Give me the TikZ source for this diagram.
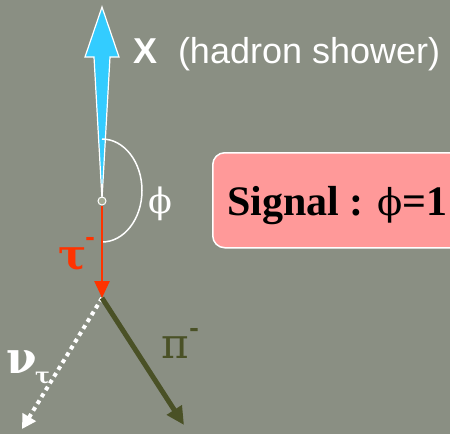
\documentclass[tikz,border=0pt]{standalone}
\usepackage{fontspec}
\setmainfont{Liberation Serif}
\newfontfamily\arialf{Liberation Sans}
\newfontfamily\dvsf{DejaVu Serif}
\usetikzlibrary{arrows.meta}
\definecolor{bg}{HTML}{8A8F83}
\definecolor{cyanX}{HTML}{33CCFF}
\definecolor{taured}{HTML}{FF3300}
\definecolor{pigreen}{HTML}{4A5126}
\definecolor{boxpink}{HTML}{FF9999}
\definecolor{vtxfill}{HTML}{A3AA94}
\begin{document}
\begin{tikzpicture}[x=1pt,y=-1pt,
  lbl/.style={inner sep=0pt, outer sep=0pt, anchor=base west},
  whitetxt/.style={lbl, text=white}]
\useasboundingbox (0,0) rectangle (450,434);
\fill[bg] (0,0) rectangle (450,434);

% named points
\coordinate (tipX) at (102,7);
\coordinate (d) at (102,298);
\coordinate (nuend) at (22,429);
\coordinate (piend) at (184,425);

% signal box
\node[draw=white, line width=1.5pt, fill=boxpink, rounded corners=12pt,
      minimum width=270pt, minimum height=95pt, anchor=north west, inner sep=0pt] (box) at (212,152) {};
\node[lbl, text=black] (sig) at (227,215) {\fontsize{42}{44}\selectfont\bfseries Signal : {\dvsf\mdseries\fontsize{37}{40}\selectfont ϕ}=1};

% hadron shower arrow (X)
\filldraw[fill=cyanX, draw=white, line width=1.2pt, line join=miter]
  (tipX) -- (119,57) -- (110,57) -- (102,199) -- (94,57) -- (85,57) -- cycle;

% angle arc
\draw[white, line width=1.5pt] (102,139) arc[start angle=-90, end angle=90, x radius=40, y radius=51.5];

% vertex
\node[circle, draw=white, fill=vtxfill, line width=1pt, minimum size=8pt, inner sep=0pt] (v) at (102,201) {};

% tau arrow
\draw[taured, line width=2.5pt, -{Triangle[length=17pt,width=15pt]}] (v.south) -- (d);

% neutrino (dotted)
\draw[white, line width=4pt, dash pattern=on 4pt off 4pt, -{Triangle[length=14pt,width=15pt]}] (d) -- (nuend);

% pion
\draw[pigreen, line width=5pt, -{Triangle[length=18pt,width=17pt]}] (d) -- (piend);

% labels
\node[whitetxt] (xl) at (133,63) {\arialf\bfseries\fontsize{36}{40}\selectfont X};
\node[whitetxt] (hs) at (178,63) {\arialf\fontsize{36}{40}\selectfont (hadron shower)};
\node[whitetxt] (phil) at (148,213) {\dvsf\fontsize{35}{40}\selectfont ϕ};
\node[lbl, text=taured] (taul) at (58,269) {\dvsf\bfseries\fontsize{42}{44}\selectfont τ};
\node[lbl, text=taured] (taum) at (85,245) {\dvsf\bfseries\fontsize{24}{26}\selectfont -};
\node[lbl, text=pigreen] (pil) at (161,358) {\dvsf\fontsize{42}{44}\selectfont π};
\node[lbl, text=pigreen] (pim) at (189,336) {\dvsf\bfseries\fontsize{24}{26}\selectfont -};
\node[whitetxt] (nul) at (6,373) {\dvsf\bfseries\fontsize{44}{44}\selectfont ν};
\node[whitetxt] (nusub) at (35,383) {\dvsf\bfseries\fontsize{22}{26}\selectfont τ};
\end{tikzpicture}
\end{document}
